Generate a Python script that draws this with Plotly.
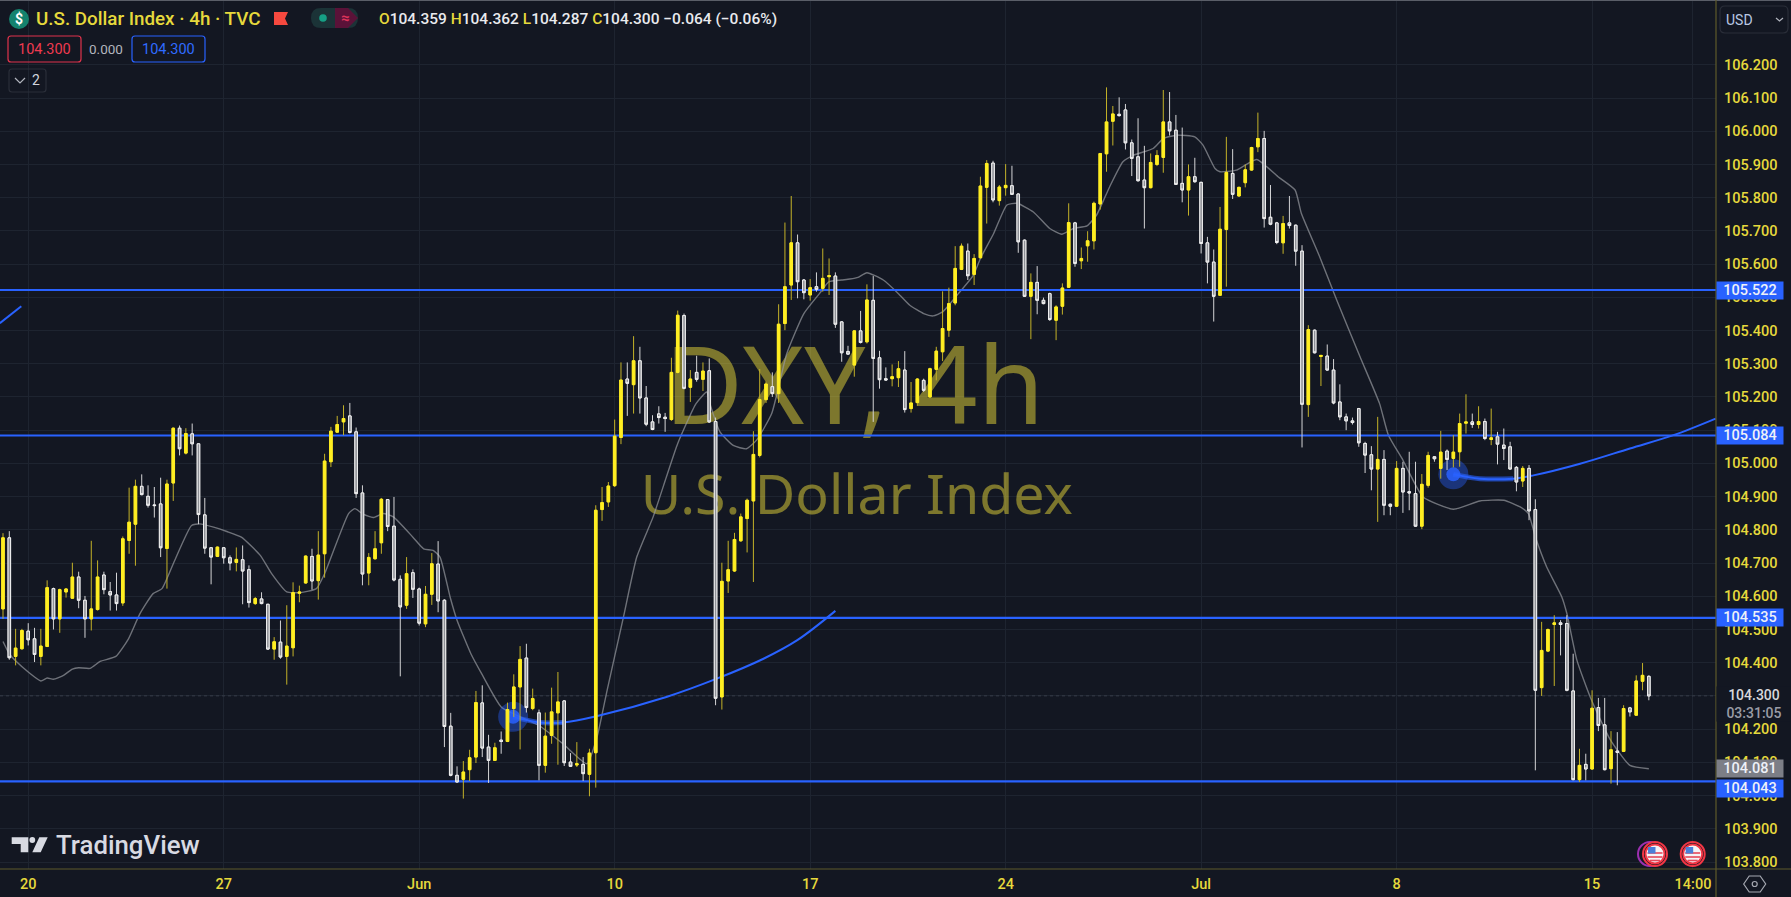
import plotly.graph_objects as go

# ---------- data (4h bars of the U.S. Dollar Index) ----------
opens = [
104.562,104.776,104.419,104.442,104.495,104.472,104.419,104.449,104.623,104.532,
104.613,104.594,104.658,104.588,104.532,104.560,104.664,104.614,104.604,104.580,
104.768,104.817,104.931,104.901,104.875,104.878,104.744,104.941,105.106,105.031,
105.089,105.059,104.845,104.746,104.720,104.746,104.716,104.702,104.710,104.680,
104.578,104.592,104.576,104.441,104.462,104.419,104.445,104.609,104.640,104.720,
104.647,104.728,105.005,105.094,105.125,105.143,105.095,104.911,104.670,104.713,
104.761,104.891,104.811,104.651,104.573,104.671,104.622,104.517,104.606,104.697,
104.588,104.209,104.061,104.049,104.078,104.116,104.279,104.146,104.106,104.167,
104.163,104.262,104.327,104.414,104.262,104.249,104.091,104.181,104.249,104.285,
104.101,104.092,104.094,104.064,104.129,104.861,104.884,104.933,105.078,105.254,
105.237,105.309,105.197,105.125,105.149,105.139,105.132,105.274,105.445,105.229,
105.274,105.253,105.279,105.126,104.297,104.646,104.676,104.767,104.834,104.887,
105.024,105.192,105.231,105.210,105.421,105.537,105.664,105.552,105.507,105.532,
105.527,105.562,105.564,105.426,105.337,105.296,105.399,105.366,105.491,105.318,
105.255,105.255,105.258,105.281,105.165,105.183,105.250,105.200,105.283,105.336,
105.401,105.483,105.584,105.639,105.569,105.619,105.831,105.904,105.791,105.830,
105.836,105.811,105.672,105.503,105.545,105.491,105.511,105.431,105.473,105.530,
105.724,105.610,105.655,105.670,105.781,105.932,106.030,106.051,106.064,105.965,
105.923,105.853,105.830,105.900,105.921,106.028,106.003,105.843,105.823,105.863,
105.846,105.664,105.606,105.506,105.704,105.873,105.805,105.845,105.883,105.953,
105.978,105.741,105.724,105.664,105.724,105.717,105.639,105.177,105.401,105.322,
105.323,105.281,105.185,105.140,105.128,105.165,105.060,105.026,104.983,105.012,
104.877,104.871,104.985,104.915,104.909,104.811,104.934,105.020,104.985,105.037,
105.015,105.035,105.121,105.125,105.117,105.126,105.072,105.080,105.055,105.050,
104.988,104.947,104.985,104.861,104.325,104.435,104.515,104.520,104.518,104.315,
104.048,104.094,104.080,104.265,104.213,104.081,104.134,104.133,104.264,104.242,
104.344,104.359]
highs = [
104.790,104.796,104.502,104.502,104.519,104.505,104.502,104.648,104.626,104.623,
104.625,104.701,104.674,104.601,104.767,104.708,104.674,104.643,104.671,104.780,
104.927,104.951,104.967,104.934,104.929,104.957,104.951,105.108,105.114,105.106,
105.120,105.059,104.896,104.748,104.750,104.748,104.723,104.747,104.753,104.693,
104.598,104.612,104.576,104.477,104.527,104.573,104.642,104.632,104.723,104.743,
104.796,105.029,105.110,105.143,105.175,105.182,105.108,104.934,104.730,104.796,
104.896,104.892,104.899,104.663,104.718,104.681,104.626,104.631,104.730,104.766,
104.591,104.249,104.088,104.104,104.138,104.315,104.332,104.183,104.159,104.193,
104.280,104.365,104.450,104.457,104.322,104.259,104.250,104.325,104.372,104.287,
104.128,104.161,104.116,104.141,104.874,104.929,104.944,105.132,105.304,105.304,
105.383,105.351,105.233,105.145,105.172,105.152,105.318,105.460,105.451,105.281,
105.324,105.304,105.316,105.138,104.701,104.767,104.791,104.849,104.894,105.097,
105.284,105.246,105.274,105.479,105.725,105.805,105.689,105.555,105.555,105.575,
105.647,105.617,105.575,105.428,105.354,105.401,105.459,105.539,105.564,105.339,
105.289,105.298,105.308,105.338,105.245,105.257,105.255,105.288,105.351,105.518,
105.529,105.654,105.662,105.662,105.630,105.863,105.913,105.911,105.838,105.901,
105.896,105.813,105.674,105.572,105.594,105.499,105.514,105.476,105.542,105.783,
105.727,105.650,105.699,105.788,105.933,106.132,106.076,106.102,106.082,105.975,
106.039,105.956,105.933,105.943,106.124,106.118,106.049,106.011,105.900,105.920,
105.848,105.682,105.644,105.772,105.983,105.946,105.833,105.900,105.953,106.056,
106.001,105.838,105.727,105.745,105.805,105.719,105.657,105.416,105.403,105.325,
105.358,105.314,105.238,105.150,105.138,105.167,105.065,105.052,105.140,105.040,
104.879,105.007,105.005,105.035,105.005,104.968,105.035,105.022,105.098,105.042,
105.085,105.150,105.208,105.150,105.172,105.135,105.165,105.095,105.105,105.065,
104.992,104.992,104.995,104.892,104.523,104.503,104.543,104.528,104.543,104.427,
104.141,104.126,104.317,104.294,104.294,104.194,104.191,104.272,104.267,104.362,
104.399,104.362]
lows = [
104.532,104.409,104.392,104.439,104.452,104.402,104.392,104.447,104.500,104.490,
104.596,104.592,104.564,104.475,104.497,104.557,104.606,104.557,104.557,104.571,
104.728,104.692,104.904,104.867,104.837,104.718,104.623,104.887,105.024,105.027,
105.024,104.817,104.728,104.636,104.718,104.698,104.678,104.675,104.576,104.566,
104.574,104.576,104.439,104.409,104.412,104.334,104.419,104.582,104.638,104.620,
104.590,104.656,104.989,105.092,105.085,105.090,104.896,104.633,104.633,104.710,
104.728,104.796,104.645,104.359,104.562,104.595,104.512,104.507,104.574,104.552,
104.146,104.058,104.039,103.991,104.044,104.098,104.116,104.038,104.104,104.126,
104.161,104.237,104.139,104.250,104.257,104.046,104.069,104.156,104.093,104.089,
104.086,104.086,104.044,103.998,104.024,104.827,104.869,104.929,105.058,105.143,
105.150,105.150,105.112,105.100,105.120,105.095,105.128,105.271,105.223,105.185,
105.246,105.218,105.122,104.272,104.259,104.610,104.673,104.764,104.732,104.643,
105.018,105.182,105.200,105.182,105.401,105.492,105.497,105.494,105.490,105.517,
105.517,105.507,105.408,105.306,105.327,105.261,105.361,105.361,105.125,105.225,
105.250,105.232,105.230,105.153,105.153,105.173,105.215,105.198,105.250,105.308,
105.381,105.476,105.582,105.552,105.537,105.617,105.722,105.786,105.776,105.806,
105.808,105.634,105.501,105.374,105.449,105.479,105.429,105.371,105.448,105.528,
105.592,105.585,105.607,105.644,105.764,105.878,105.957,106.044,105.945,105.865,
105.848,105.707,105.828,105.895,105.875,105.987,105.838,105.786,105.746,105.845,
105.632,105.542,105.427,105.504,105.532,105.796,105.803,105.831,105.881,105.937,
105.710,105.717,105.660,105.631,105.707,105.595,105.048,105.140,105.331,105.233,
105.279,105.178,105.130,105.100,105.117,105.050,104.971,104.919,104.824,104.844,
104.844,104.869,104.851,104.859,104.809,104.802,104.927,105.005,104.954,104.980,
104.988,104.990,105.090,105.107,105.105,105.070,105.055,104.997,105.010,104.982,
104.916,104.929,104.829,104.076,104.300,104.432,104.330,104.422,104.314,104.046,
104.041,104.046,104.078,104.194,104.076,104.036,104.031,104.131,104.238,104.241,
104.317,104.287]
closes = [
104.776,104.415,104.444,104.497,104.469,104.425,104.450,104.626,104.532,104.620,
104.622,104.658,104.588,104.532,104.562,104.658,104.620,104.604,104.578,104.773,
104.823,104.931,104.906,104.874,104.873,104.746,104.938,105.106,105.044,105.090,
105.059,104.846,104.745,104.718,104.748,104.716,104.700,104.711,104.676,104.581,
104.593,104.578,104.441,104.463,104.417,104.450,104.611,104.613,104.721,104.646,
104.724,105.007,105.097,105.117,105.135,105.093,104.909,104.667,104.717,104.743,
104.892,104.810,104.649,104.568,104.668,104.621,104.519,104.606,104.698,104.586,
104.208,104.061,104.041,104.071,104.114,104.280,104.143,104.106,104.144,104.163,
104.259,104.327,104.410,104.265,104.292,104.091,104.179,104.252,104.282,104.099,
104.088,104.096,104.066,104.128,104.859,104.882,104.932,105.082,105.251,105.241,
105.309,105.197,105.118,105.102,105.138,105.135,105.274,105.446,105.226,105.254,
105.253,105.278,105.125,104.293,104.645,104.680,104.771,104.839,104.889,105.027,
105.192,105.239,105.210,105.419,105.532,105.664,105.547,105.514,105.529,105.524,
105.557,105.565,105.419,105.333,105.329,105.399,105.364,105.492,105.316,105.252,
105.251,105.261,105.285,105.162,105.182,105.254,105.220,105.285,105.338,105.406,
105.481,105.587,105.654,105.565,105.617,105.835,105.903,105.793,105.832,105.837,
105.810,105.667,105.503,105.545,105.491,105.481,105.433,105.471,105.528,105.725,
105.602,105.617,105.670,105.783,105.933,106.028,106.052,106.047,105.965,105.918,
105.851,105.830,105.906,105.927,106.028,106.001,105.840,105.823,105.863,105.848,
105.662,105.606,105.503,105.705,105.876,105.810,105.831,105.884,105.951,105.978,
105.737,105.720,105.665,105.722,105.716,105.639,105.178,105.403,105.333,105.325,
105.281,105.182,105.140,105.128,105.123,105.062,105.025,104.983,105.012,104.874,
104.871,104.985,104.914,104.911,104.811,104.937,105.024,105.014,105.034,105.012,
105.034,105.120,105.125,105.117,105.126,105.075,105.077,105.058,105.045,104.983,
104.944,104.985,104.857,104.317,104.437,104.500,104.520,104.515,104.317,104.048,
104.091,104.080,104.263,104.211,104.078,104.138,104.130,104.262,104.252,104.345,
104.362,104.300]
bars = list(range(len(opens)))

ma_bar = [0,1,2.2,4,6,7,8,9.6,11,12,13.8,15.4,17.9,19.9,21.7,23.8,25.2,27,29.9,31.2,33.4,35.5,37.8,40.8,42.6,45,47.1,49.7,51,
          54.8,55.8,57.1,58.7,60.3,61.9,65,66.7,68.2,69.3,70.9,72,74.2,75.9,79,82,85,88.8,92.6,94.2,95.8,98.4,100.5,103.1,105.2,107,
          109.9,111.6,112.1,113.7,115.8,117.9,119.5,121.9,124.3,127,129.5,131,133,134.3,135.6,137,139.6,142,143.8,146,147.5,149,151.5,
          153.9,155,157.1,159.2,160.8,163.4,166,167.9,169.7,171.9,173.4,175.5,177.6,179.3,182.4,184,186.1,189,190.3,192.2,193,195.6,
          198.8,202.2,204.9,205.9,208.8,211.5,215.2,218.3,219.7,222,225.2,230,234.2,238,240.6,241.9,243,244.8,247.2,248,249.6,251.7,254.8,258,261]
ma_val = [104.464,104.427,104.402,104.372,104.345,104.354,104.350,104.362,104.381,104.385,104.383,104.404,104.419,104.472,104.547,104.608,104.623,104.698,104.813,104.818,104.808,104.795,104.778,104.723,104.668,104.613,104.611,104.623,104.668,
          104.849,104.864,104.847,104.837,104.849,104.839,104.778,104.743,104.738,104.718,104.598,104.528,104.427,104.367,104.267,104.237,104.211,104.156,104.096,104.176,104.317,104.538,104.718,104.839,104.959,105.060,
          105.180,105.215,105.180,105.095,105.054,105.044,105.070,105.150,105.331,105.451,105.512,105.547,105.552,105.555,105.560,105.574,105.552,105.511,105.476,105.451,105.444,105.456,105.511,
          105.567,105.617,105.692,105.778,105.783,105.757,105.707,105.690,105.707,105.715,105.747,105.833,105.908,105.928,105.948,105.978,105.988,105.983,105.958,105.888,105.878,105.883,
          105.915,105.863,105.823,105.752,105.622,105.492,105.321,105.180,105.085,105.010,104.899,104.862,104.887,104.889,104.869,104.849,104.779,104.688,104.598,104.548,104.407,104.297,104.171,104.091,104.081]

level_prices = [105.522, 105.084, 104.535, 104.043]
level_labels = ["105.522", "105.084", "104.535", "104.043"]
ma_last = 104.081
last_close = 104.300

curve_a_bar = [-0.5, 2.9]
curve_a_val = [105.422, 105.473]
curve_b_bar = [80.9,85.2,88.8,94.1,105.2,113.2,120.6,125.9,132]
curve_b_val = [104.237,104.220,104.220,104.239,104.297,104.352,104.412,104.467,104.556]
curve_c_bar = [230,234.2,239.5,242.7,250.1,258,264.9,271.6]
curve_c_val = [104.967,104.954,104.954,104.964,104.999,105.045,105.085,105.135]

price_ticks = [106.2,106.1,106.0,105.9,105.8,105.7,105.6,105.5,105.4,105.3,105.2,105.1,105.0,104.9,104.8,104.7,104.6,104.5,104.4,104.3,104.2,104.1,104.0,103.9,103.8]
price_tick_labels = ["106.200","106.100","106.000","105.900","105.800","105.700","105.600","105.500","105.400","105.300","105.200","105.100","105.000","104.900","104.800","104.700","104.600","104.500","104.400","104.300","104.200","104.100","104.000","103.900","103.800"]
time_ticks = [4,35,66,97,128,159,190,221,252,268]
time_tick_labels = ["20","27","Jun","10","17","24","Jul","8","15","14:00"]
watermark_bar = [135.0,135.4]
watermark_val = [105.20,104.89]
watermark_text = ["DXY, 4h","U.S. Dollar Index"]
watermark_size = [108,55.5]

# ---------- styling ----------
W, H = 1791, 897
PW, PH = 1716, 869
BG = "#131722"
GRID = "#1e2430"
AXIS = "#5f5a2a"
BLUE = "#2962ff"
YEL = "#ffee22"
WICKY = "#c4b228"
TICK = "#e6d93c"
FONT = "Roboto"
XR = [-0.476, 271.65]
YR = [103.779, 106.395]

def xp(px): return px / PW
def yp(py): return 1 - py / PH

fig = go.Figure()

# Watermark under everything else
for bx, val, txt, size in zip(watermark_bar, watermark_val, watermark_text, watermark_size):
    fig.add_trace(go.Scatter(x=[bx], y=[val], mode="text", text=[txt], textposition="middle center",
                             textfont=dict(family="Noto Sans", size=size, color="rgba(255,238,60,0.45)"),
                             hoverinfo="skip", showlegend=False))

# current price dotted line
fig.add_trace(go.Scatter(x=XR, y=[last_close, last_close], mode="lines",
                         line=dict(color="rgba(130,133,145,0.28)", width=1, dash="dot"),
                         hoverinfo="skip", showlegend=False))

# moving average
fig.add_trace(go.Scatter(x=ma_bar, y=ma_val, mode="lines",
                         line=dict(color="rgba(150,152,158,0.7)", width=1.4, shape="spline", smoothing=0.5),
                         hoverinfo="skip", showlegend=False))

# horizontal levels
for lv in level_prices:
    fig.add_trace(go.Scatter(x=XR, y=[lv, lv], mode="lines", line=dict(color=BLUE, width=2.2),
                             hoverinfo="skip", showlegend=False))

# curves with anchors
for cx, cy in ((curve_a_bar, curve_a_val), (curve_b_bar, curve_b_val), (curve_c_bar, curve_c_val)):
    fig.add_trace(go.Scatter(x=cx, y=cy, mode="lines", line=dict(color=BLUE, width=2, shape="spline", smoothing=1),
                             hoverinfo="skip", showlegend=False))
for cx, cy in ((curve_b_bar, curve_b_val), (curve_c_bar, curve_c_val)):
    fig.add_trace(go.Scatter(x=cx[:3], y=cy[:3], mode="lines",
                             line=dict(color="rgba(41,98,255,0.6)", width=5, shape="spline"),
                             hoverinfo="skip", showlegend=False))
    fig.add_trace(go.Scatter(x=cx[:1], y=cy[:1], mode="markers",
                             marker=dict(size=30, color="rgba(41,98,255,0.4)", line=dict(width=0)),
                             hoverinfo="skip", showlegend=False))
    fig.add_trace(go.Scatter(x=cx[:1], y=cy[:1], mode="markers",
                             marker=dict(size=14, color="rgba(41,98,255,0.85)", line=dict(width=0)),
                             hoverinfo="skip", showlegend=False))

# candles on an overlaying subplot so that they sit above lines
fig.add_trace(go.Candlestick(x=bars, open=opens, high=highs, low=lows, close=closes,
                             xaxis="x2", yaxis="y2", whiskerwidth=0,
                             increasing=dict(line=dict(color=WICKY, width=1), fillcolor=WICKY),
                             decreasing=dict(line=dict(color="#d4d4d6", width=1), fillcolor="#d4d4d6"),
                             hoverinfo="skip", showlegend=False))
body_hi = [max(o, c) for o, c in zip(opens, closes)]
body_lo = [min(o, c) for o, c in zip(opens, closes)]
fig.add_trace(go.Candlestick(x=bars, open=opens, high=body_hi, low=body_lo, close=closes,
                             xaxis="x2", yaxis="y2", whiskerwidth=0,
                             increasing=dict(line=dict(color=YEL, width=1), fillcolor=YEL),
                             decreasing=dict(line=dict(color="#f0f0f0", width=1), fillcolor="#8e9096"),
                             hoverinfo="skip", showlegend=False))

# ---------- shapes drawn in pixel helpers ----------
shapes = []
def line(x0, y0, x1, y1, color, width=1):
    shapes.append(dict(type="line", xref="paper", yref="paper", x0=xp(x0), y0=yp(y0), x1=xp(x1), y1=yp(y1),
                       line=dict(color=color, width=width), layer="above"))
def rect(x0, y0, x1, y1, fill=None, color=None, width=0):
    shapes.append(dict(type="rect", xref="paper", yref="paper", x0=xp(x0), y0=yp(y0), x1=xp(x1), y1=yp(y1),
                       fillcolor=fill or "rgba(0,0,0,0)", line=dict(color=color or "rgba(0,0,0,0)", width=width), layer="above"))
def circle(cx, cy, r, fill=None, color=None, width=0):
    shapes.append(dict(type="circle", xref="paper", yref="paper", x0=xp(cx-r), y0=yp(cy-r), x1=xp(cx+r), y1=yp(cy+r),
                       fillcolor=fill or "rgba(0,0,0,0)", line=dict(color=color or "rgba(0,0,0,0)", width=width), layer="above"))
def poly(pts, fill=None, color=None, width=0, close=True):
    d = "M " + " L ".join(f"{xp(x):.6f},{yp(y):.6f}" for x, y in pts) + (" Z" if close else "")
    shapes.append(dict(type="path", xref="paper", yref="paper", path=d,
                       fillcolor=fill or "rgba(0,0,0,0)", line=dict(color=color or "rgba(0,0,0,0)", width=width), layer="above"))
def rrect(x0, y0, x1, y1, r, fill=None, color=None, width=1):
    X = lambda v: f"{xp(v):.6f}"
    Y = lambda v: f"{yp(v):.6f}"
    d = (f"M {X(x0+r)},{Y(y0)} L {X(x1-r)},{Y(y0)} Q {X(x1)},{Y(y0)} {X(x1)},{Y(y0+r)} "
         f"L {X(x1)},{Y(y1-r)} Q {X(x1)},{Y(y1)} {X(x1-r)},{Y(y1)} L {X(x0+r)},{Y(y1)} "
         f"Q {X(x0)},{Y(y1)} {X(x0)},{Y(y1-r)} L {X(x0)},{Y(y0+r)} Q {X(x0)},{Y(y0)} {X(x0+r)},{Y(y0)} Z")
    shapes.append(dict(type="path", xref="paper", yref="paper", path=d,
                       fillcolor=fill or "rgba(0,0,0,0)", line=dict(color=color or "rgba(0,0,0,0)", width=width), layer="above"))

# frame
line(0, 0.5, W, 0.5, "#5a5e68", 1)
line(0, 869, W, 869, AXIS, 1.2)
line(1716, 0, 1716, H, AXIS, 1.2)

# header icons
circle(19, 19, 10, fill="#14826e")
poly([(274,12),(288,12),(285,18.5),(288,25),(274,25)], fill="#f6493f")
rrect(311, 8, 358, 28, 10, fill="#1b3337", width=0)
poly([(335,8),(348,8),(358,18),(348,28),(335,28)], fill="#5a1238")
circle(323, 18, 3.8, fill="#16a085")
rrect(8, 36, 81, 62, 3, color="#e0334c", width=1.2)
rrect(132, 36, 205, 62, 3, color="#2962ff", width=1.2)
rrect(9, 69, 46, 92, 3, color="#2a2e39", width=1.2)
poly([(15,78),(20,83),(25,78)], color="#b2b5be", width=1.2, close=False)
# USD selector
rrect(1720, 6, 1788, 33, 5, color="#2a2e39", width=1.2)
poly([(1776,18),(1779.5,21),(1783,18)], color="#b2b5be", width=1.2, close=False)

# TradingView logo
LOGO = "#d8dae2"
poly([(11.7,837.3),(28.3,837.3),(28.3,852.3),(20.7,852.3),(20.7,844),(11.7,844)], fill=LOGO)
circle(32.3, 840, 2.9, fill=LOGO)
poly([(39.3,837.3),(47.7,837.3),(40.7,852.3),(32.3,852.3)], fill=LOGO)

# event flags
def us_flag(cx, cy):
    r = 9.5
    circle(cx, cy, r, fill="#f4f4f6", color="#f23645", width=2)
    for dy, half in ((-1.0, 7.5), (3.0, 7.5), (6.5, 5.0)):
        rect(cx - half, cy + dy - 0.8, cx + half, cy + dy + 0.8, fill="#e6485a")
    rect(cx - 7, cy - 7, cx + 0.5, cy - 0.5, fill="#4a7fd8")
circle(1650, 854, 12, color="#9c2fb0", width=2)
circle(1655, 854, 12, fill=BG, color="#f23645", width=2)
us_flag(1655, 854)
circle(1692.7, 854, 12, fill=BG, color="#f23645", width=2)
us_flag(1692.7, 854)

# settings hexagon
hx, hy = 1754.7, 884
poly([(hx-11,hy),(hx-5.5,hy-8),(hx+5.5,hy-8),(hx+11,hy),(hx+5.5,hy+8),(hx-5.5,hy+8)], color="#a6a9b2", width=1.2)
circle(hx, hy, 2.5, color="#a6a9b2", width=1.2)

# ---------- annotations ----------
anns = []
def ann(text, x, y, size, color, anchor="left", weight=None, family=FONT):
    f = dict(family=family, size=size, color=color)
    if weight: f["weight"] = weight
    anns.append(dict(text=text, xref="paper", yref="paper", x=xp(x), y=yp(y), xanchor=anchor, yanchor="middle",
                     showarrow=False, font=f, borderpad=0))

ann("$", 19, 19, 14, "#ffffff", "center", 700)
ann("U.S. Dollar Index · 4h · TVC", 35, 19, 18.8, TICK, weight=500)
Y_ = f'<span style="color:{TICK}">'
W_ = '<span style="color:#e9eaee">'
ann(f"{Y_}O</span>{W_}104.359</span> {Y_}H</span>{W_}104.362</span> {Y_}L</span>{W_}104.287</span> "
    f"{Y_}C</span>{W_}104.300 −0.064 (−0.06%)</span>", 378, 19, 15.5, "#e9eaee", weight=500)
ann("≈", 345, 18, 15, "#e0335a", "center", 700)
ann("104.300", 44.5, 49, 14.5, "#ef3a50", "center")
ann("0.000", 106, 49, 13.5, "#b2b5be", "center")
ann("104.300", 168.5, 49, 14.5, "#2f6bff", "center")
ann("2", 36, 80, 14, "#d1d4dc", "center")
ann("USD", 1725, 20, 14, "#b9c8e2", "left")
ann("TradingView", 55, 845, 25.8, LOGO, "left", 500)

# price-scale badges using the axis' own y values
badge_font = dict(family=FONT, size=14.5, color="#eef1f8", weight=500)
anns.append(dict(text=f"{last_close:.3f}<br><span style='color:#9a9ca6'>03:31:05</span>", xref="paper", yref="y", x=1.0, y=last_close,
                 xanchor="left", yanchor="middle", yshift=-8, showarrow=False, width=74, height=34, bgcolor=BG, align="center",
                 font=dict(family=FONT, size=14, color="#d7d8dc", weight=500), borderpad=0))
anns.append(dict(text=f"{ma_last:.3f}", xref="paper", yref="y", x=1.0, y=ma_last, xanchor="left", yanchor="middle",
                 showarrow=False, width=66, height=17, bgcolor="#7c7e86", font=badge_font, borderpad=0))
for lv, lb in zip(level_prices, level_labels):
    shift = -7 if lb == "104.043" else 0
    anns.append(dict(text=lb, xref="paper", yref="y", x=1.0, y=lv, xanchor="left", yanchor="middle", yshift=shift,
                     showarrow=False, width=66, height=17, bgcolor=BLUE, font=badge_font, borderpad=0))

fig.update_layout(
    width=W, height=H, autosize=False,
    margin=dict(l=0, r=W-PW, t=0, b=H-PH, pad=0),
    paper_bgcolor=BG, plot_bgcolor=BG, showlegend=False,
    boxgap=0.42, boxmode="overlay", hovermode=False,
    shapes=shapes, annotations=anns,
    xaxis=dict(range=XR, tickmode="array", tickvals=time_ticks, ticktext=time_tick_labels, showgrid=True, gridcolor=GRID,
               gridwidth=1, zeroline=False, showline=False, ticks="", rangeslider=dict(visible=False),
               tickfont=dict(family=FONT, size=14.5, color=TICK, weight=500), ticklabelstandoff=4, domain=[0, 1]),
    yaxis=dict(range=YR, side="right", tickmode="array", tickvals=price_ticks, ticktext=price_tick_labels, showgrid=True,
               gridcolor=GRID, gridwidth=1, zeroline=False, showline=False, ticks="",
               tickfont=dict(family=FONT, size=14.5, color=TICK, weight=500), ticklabelstandoff=7, domain=[0, 1]),
    xaxis2=dict(range=XR, overlaying="x", anchor="y2", visible=False, rangeslider=dict(visible=False)),
    yaxis2=dict(range=YR, overlaying="y", anchor="x2", side="right", visible=False),
)

fig.write_html("out.html", config={"displayModeBar": False},
               post_script="document.body.style.margin='0';document.body.style.overflow='hidden';document.body.style.background='#131722';")
